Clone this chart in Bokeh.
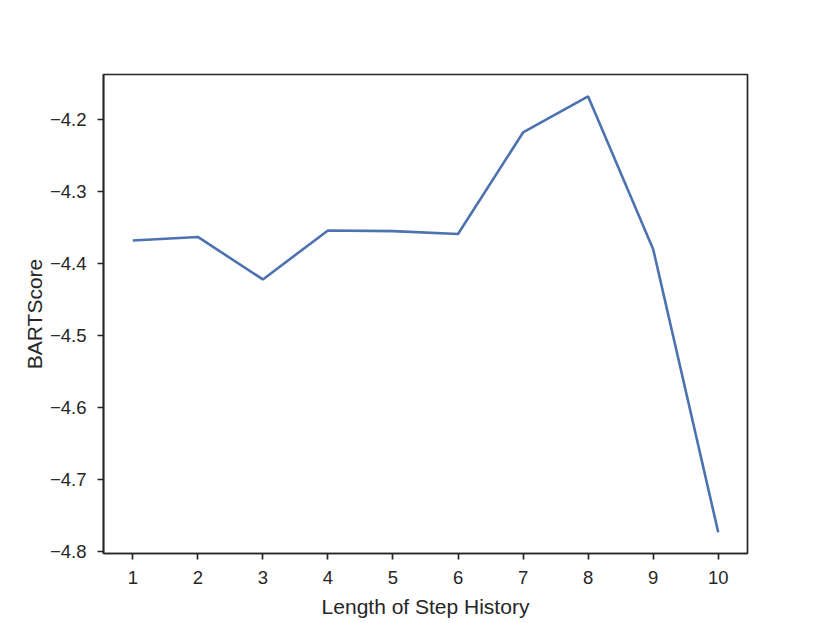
from bokeh.plotting import figure
from bokeh.models import FixedTicker, CustomJSTickFormatter, Range1d
from bokeh.embed import file_html
from bokeh.resources import INLINE

steps = [1, 2, 3, 4, 5, 6, 7, 8, 9, 10]
bartscore = [-4.368, -4.363, -4.422, -4.354, -4.355, -4.359, -4.218, -4.168, -4.380, -4.773]
x_ticks = [1, 2, 3, 4, 5, 6, 7, 8, 9, 10]
y_ticks = [-4.8, -4.7, -4.6, -4.5, -4.4, -4.3, -4.2]

FONT = "Liberation Sans"
DARK = "#262626"

p = figure(width=830, height=623, output_backend="svg", toolbar_location=None,
           x_range=Range1d(0.55, 10.45), y_range=Range1d(-4.8025, -4.1375),
           min_border_left=103, min_border_top=74, min_border_right=83, min_border_bottom=70)

p.line(steps, bartscore, line_color="#4C72B0", line_width=2.6)

p.outline_line_color = DARK
p.outline_line_width = 1.7
p.grid.visible = False
p.background_fill_color = "white"
p.border_fill_color = "white"

for ax in (p.xaxis[0], p.yaxis[0]):
    ax.axis_line_color = DARK
    ax.axis_line_width = 1.7
    ax.major_tick_line_color = DARK
    ax.major_tick_line_width = 1.7
    ax.major_tick_out = 6
    ax.major_tick_in = 0
    ax.minor_tick_line_color = None
    ax.major_label_text_font = FONT
    ax.major_label_text_font_size = "18.5px"
    ax.major_label_text_color = DARK
    ax.axis_label_text_font = FONT
    ax.axis_label_text_font_size = "21px"
    ax.axis_label_text_font_style = "normal"
    ax.axis_label_text_color = DARK

p.xaxis.ticker = FixedTicker(ticks=x_ticks)
p.yaxis.ticker = FixedTicker(ticks=y_ticks)
p.yaxis.formatter = CustomJSTickFormatter(code="return (tick < 0 ? '\u2212' : '') + Math.abs(tick).toFixed(1);")
p.xaxis.axis_label = "Length of Step History"
p.yaxis.axis_label = "BARTScore"
p.xaxis.major_label_standoff = 11
p.yaxis.major_label_standoff = 11
p.xaxis.axis_label_standoff = 8
p.yaxis.axis_label_standoff = 1

open("out.html", "w").write(file_html(p, INLINE))
